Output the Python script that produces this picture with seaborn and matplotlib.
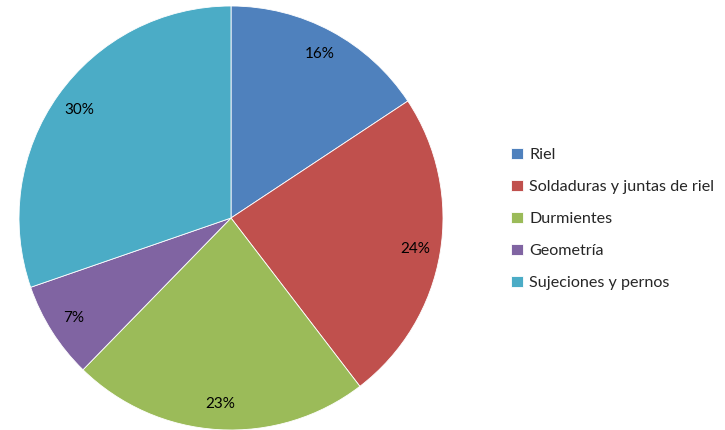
import matplotlib
matplotlib.use("Agg")
import matplotlib.pyplot as plt
import seaborn as sns

categories = ["Riel", "Soldaduras y juntas de riel", "Durmientes", "Geometría", "Sujeciones y pernos"]
shares = [15.7, 23.9, 22.7, 7.4, 30.3]
colors = ["#4F81BD", "#C0504D", "#9BBB59", "#8064A2", "#4BACC6"]

sns.set_theme(style="white", palette=sns.color_palette(colors))
plt.rcParams['font.family'] = ['Lato', 'DejaVu Sans']

fig = plt.figure(figsize=(7.25, 4.3), dpi=100)
ax = fig.add_axes([19 / 725, 0.0, 424 / 725, 424 / 430])

wedges, texts, autotexts = ax.pie(
    shares, colors=colors, startangle=90, counterclock=False,
    autopct=lambda p: f"{p:.0f}%", pctdistance=0.88,
    wedgeprops=dict(edgecolor="white", linewidth=0.6),
    textprops=dict(fontsize=11, color="black"),
)
ax.set_xlim(-1, 1)
ax.set_ylim(-1, 1)
ax.set_aspect("equal")

fig.legend(wedges, categories, loc="center left",
           bbox_to_anchor=(505 / 725, 1 - 219 / 430),
           frameon=False, fontsize=11.6, handlelength=0.7, handleheight=0.7,
           handletextpad=0.4, labelspacing=1.1, borderaxespad=0)

fig.savefig("out.png", dpi=100)
